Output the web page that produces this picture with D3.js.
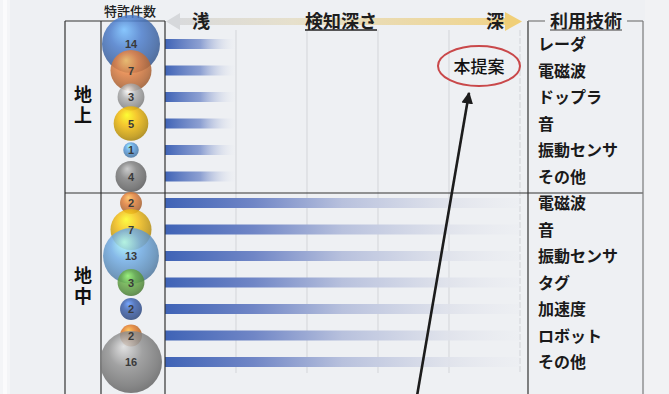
<!DOCTYPE html>
<html>
<head>
<meta charset="utf-8">
<script src="https://cdn.jsdelivr.net/npm/d3@7/dist/d3.min.js"></script>
<style>
  html, body { margin: 0; padding: 0; background: #eef0f3; }
  svg { display: block; }
  text { font-family: "Noto Sans CJK JP", "Noto Sans", sans-serif; }
</style>
</head>
<body>
<svg id="chart" width="669" height="394"></svg>
<script>
// Rows: sensing technology per domain (地上 = above ground, 地中 = underground)
const groups = ["地上", "地中"];
const techGround = ["レーダ", "電磁波", "ドップラ", "音", "振動センサ", "その他"];
const techUnder = ["電磁波", "音", "振動センサ", "タグ", "加速度", "ロボット", "その他"];
// Number of patents per technology
const patentsGround = [14, 7, 3, 5, 1, 4];
const patentsUnder = [2, 7, 13, 3, 2, 2, 16];
// Detection depth reached by each technology (grid units, 0 = 浅, 5 = 深)
const depthGround = [1, 1, 1, 1, 1, 1];
const depthUnder = [5, 5, 5, 5, 5, 5, 5];
// Sphere colours
const colorsGround = ["#4a78c2", "#d97c40", "#a9a9a9", "#e8b40c", "#5b9ad6", "#7c7c7c"];
const colorsUnder = ["#d97c3a", "#e8b618", "#6ea6da", "#66a848", "#3d60a8", "#d9782c", "#8c8c8c"];
const depthTicks = [0, 1, 2, 3, 4, 5];

const rows = [
  ...techGround.map((t, i) => ({ key: "g" + i, group: 0, tech: t, n: patentsGround[i], depth: depthGround[i], color: colorsGround[i] })),
  ...techUnder.map((t, i) => ({ key: "u" + i, group: 1, tech: t, n: patentsUnder[i], depth: depthUnder[i], color: colorsUnder[i] }))
];

const svg = d3.select("#chart");
const defs = svg.append("defs");

// Page edge strips
svg.append("rect").attr("x", 0).attr("y", 0).attr("width", 10).attr("height", 394).attr("fill", "#f4f5f7");
svg.append("rect").attr("x", 3).attr("y", 0).attr("width", 4).attr("height", 394).attr("fill", "#fbfbfc");
svg.append("rect").attr("x", 645).attr("y", 0).attr("width", 24).attr("height", 394).attr("fill", "#f1f2f4");

// Scales
const x = d3.scaleLinear().domain([0, 5]).range([165, 520]);
const y = d3.scalePoint().domain(rows.map(d => d.key)).range([44, 362]);
const r = d3.scaleSqrt().domain([0, 16]).range([0, 31]);

const tableTop = 21, divY = 193, bottom = 394;
const colL = 65, colM = 101, colB = 165, techL = 528, techR = 643;
const bubbleX = 131;

// Depth grid
svg.append("g").selectAll("line").data(depthTicks.slice(1)).join("line")
  .attr("x1", d => x(d)).attr("x2", d => x(d))
  .attr("y1", 30).attr("y2", 373)
  .attr("stroke", "#d3d5d9").attr("stroke-width", 1)
  .attr("stroke-dasharray", d => d === 5 ? "6,2" : null);

// Bar gradients
const gShort = defs.append("linearGradient").attr("id", "barShort");
gShort.append("stop").attr("offset", "0%").attr("stop-color", "#3f63b6").attr("stop-opacity", 1);
gShort.append("stop").attr("offset", "50%").attr("stop-color", "#7c92cc").attr("stop-opacity", 0.85);
gShort.append("stop").attr("offset", "100%").attr("stop-color", "#e4e7ef").attr("stop-opacity", 0);
const gLong = defs.append("linearGradient").attr("id", "barLong");
gLong.append("stop").attr("offset", "0%").attr("stop-color", "#3f63b6").attr("stop-opacity", 1);
gLong.append("stop").attr("offset", "25%").attr("stop-color", "#7086c6").attr("stop-opacity", 1);
gLong.append("stop").attr("offset", "50%").attr("stop-color", "#b8c1dd").attr("stop-opacity", 1);
gLong.append("stop").attr("offset", "80%").attr("stop-color", "#dfe2eb").attr("stop-opacity", 0.9);
gLong.append("stop").attr("offset", "100%").attr("stop-color", "#e8eaf0").attr("stop-opacity", 0.2);

svg.append("g").selectAll("rect").data(rows).join("rect")
  .attr("x", x(0))
  .attr("y", d => y(d.key) - 5)
  .attr("width", d => x(d.depth) - x(0))
  .attr("height", 10)
  .attr("fill", d => d.depth < 3 ? "url(#barShort)" : "url(#barLong)");

// Table frame
const frame = svg.append("g").attr("stroke", "#333").attr("stroke-width", 1.2).attr("fill", "none");
frame.append("line").attr("x1", colL).attr("x2", colB).attr("y1", tableTop).attr("y2", tableTop);
[colL, colM, colB].forEach(cx => frame.append("line").attr("x1", cx).attr("x2", cx).attr("y1", tableTop).attr("y2", bottom));
frame.append("line").attr("x1", techL).attr("x2", techL).attr("y1", tableTop).attr("y2", bottom);
frame.append("line").attr("x1", colL).attr("x2", techR).attr("y1", divY).attr("y2", divY);
const frameGray = svg.append("g").attr("stroke", "#7a7a7a").attr("stroke-width", 1.2).attr("fill", "none");
frameGray.append("line").attr("x1", techL).attr("x2", 545).attr("y1", tableTop).attr("y2", tableTop);
frameGray.append("line").attr("x1", 627).attr("x2", techR).attr("y1", tableTop).attr("y2", tableTop);
frameGray.append("line").attr("x1", techR).attr("x2", techR).attr("y1", tableTop).attr("y2", bottom);

// Depth arrow (shallow -> deep)
const gArrow = defs.append("linearGradient").attr("id", "depthArrow");
gArrow.append("stop").attr("offset", "0%").attr("stop-color", "#d9dadc");
gArrow.append("stop").attr("offset", "35%").attr("stop-color", "#e6e0cc");
gArrow.append("stop").attr("offset", "100%").attr("stop-color", "#f0d48a");
svg.append("rect").attr("x", 176).attr("y", 18).attr("width", 332).attr("height", 7).attr("fill", "url(#depthArrow)");
svg.append("path").attr("d", "M166,21.5 L180,13 L180,30 Z").attr("fill", "#d6d8db");
svg.append("path").attr("d", "M522,21.5 L505,12 L505,31 Z").attr("fill", "#f0cf78");

// Header texts
svg.append("text").attr("x", 130).attr("y", 16).attr("text-anchor", "middle")
  .attr("font-size", 13).attr("font-weight", 500).attr("fill", "#222").text("特許件数");
const hdr = [
  { t: "浅", x: 201, u: false },
  { t: "検知深さ", x: 341, u: true },
  { t: "深", x: 495, u: false },
  { t: "利用技術", x: 586, u: true }
];
hdr.forEach(h => {
  const tx = svg.append("text").attr("x", h.x).attr("y", 28).attr("text-anchor", "middle")
    .attr("font-size", 18).attr("font-weight", 700).attr("fill", "#1e1e1e").text(h.t);
  if (h.u) {
    const bb = tx.node().getBBox();
    svg.append("line").attr("x1", bb.x).attr("x2", bb.x + bb.width).attr("y1", 30).attr("y2", 30)
      .attr("stroke", h.t === "利用技術" ? "#777" : "#222").attr("stroke-width", 1.4);
  }
});

// Group labels, set vertically
const groupCenters = [106, 287];
svg.append("g").selectAll("text").data(groups).join("text")
  .attr("x", (colL + colM) / 2).attr("y", (g, gi) => groupCenters[gi])
  .attr("text-anchor", "middle")
  .style("writing-mode", "vertical-rl")
  .style("letter-spacing", "3px")
  .attr("font-size", 18).attr("font-weight", 700).attr("fill", "#111")
  .text(g => g);

// Technology labels
svg.append("g").selectAll("text").data(rows).join("text")
  .attr("x", 538).attr("y", d => y(d.key) + 6)
  .attr("font-size", 16).attr("font-weight", 700).attr("fill", "#1a1a1a")
  .text(d => d.tech);

// Patent-count spheres
rows.forEach((d, i) => {
  const c = d3.color(d.color);
  const gr = defs.append("radialGradient").attr("id", "sphere" + i)
    .attr("cx", "45%").attr("cy", "40%").attr("r", "60%").attr("fx", "38%").attr("fy", "25%");
  gr.append("stop").attr("offset", "0%").attr("stop-color", c.brighter(1.3));
  gr.append("stop").attr("offset", "45%").attr("stop-color", c.brighter(0.15));
  gr.append("stop").attr("offset", "85%").attr("stop-color", c.darker(0.5));
  gr.append("stop").attr("offset", "100%").attr("stop-color", c.darker(0.9));
});
const bubbles = svg.append("g");
bubbles.selectAll("circle").data(rows).join("circle")
  .attr("cx", bubbleX).attr("cy", d => y(d.key))
  .attr("r", d => r(d.n))
  .attr("fill", (d, i) => `url(#sphere${i})`)
  .attr("fill-opacity", 0.85);
bubbles.selectAll("text").data(rows).join("text")
  .attr("x", bubbleX).attr("y", d => y(d.key) + 4)
  .attr("text-anchor", "middle")
  .style("font-family", "'Liberation Sans', 'Open Sans', sans-serif")
  .attr("font-size", 11).attr("font-weight", 700).attr("fill", "#3a3a3a")
  .text(d => d.n);

// Proposal callout
svg.append("ellipse").attr("cx", 479).attr("cy", 66).attr("rx", 41).attr("ry", 20)
  .attr("fill", "none").attr("stroke", "#c9484a").attr("stroke-width", 2);
svg.append("text").attr("x", 479).attr("y", 73).attr("text-anchor", "middle")
  .attr("font-size", 17).attr("font-weight", 500).attr("fill", "#111").text("本提案");
defs.append("marker").attr("id", "tip").attr("viewBox", "0 0 10 10")
  .attr("refX", 9).attr("refY", 5).attr("markerWidth", 4.5).attr("markerHeight", 5)
  .attr("orient", "auto").attr("markerUnits", "strokeWidth")
  .append("path").attr("d", "M0,0 L10,5 L0,10 Z").attr("fill", "#1c1c1c");
svg.append("line").attr("x1", 417).attr("y1", 396).attr("x2", 469).attr("y2", 93)
  .attr("stroke", "#1c1c1c").attr("stroke-width", 2.6).attr("marker-end", "url(#tip)");
</script>
</body>
</html>
